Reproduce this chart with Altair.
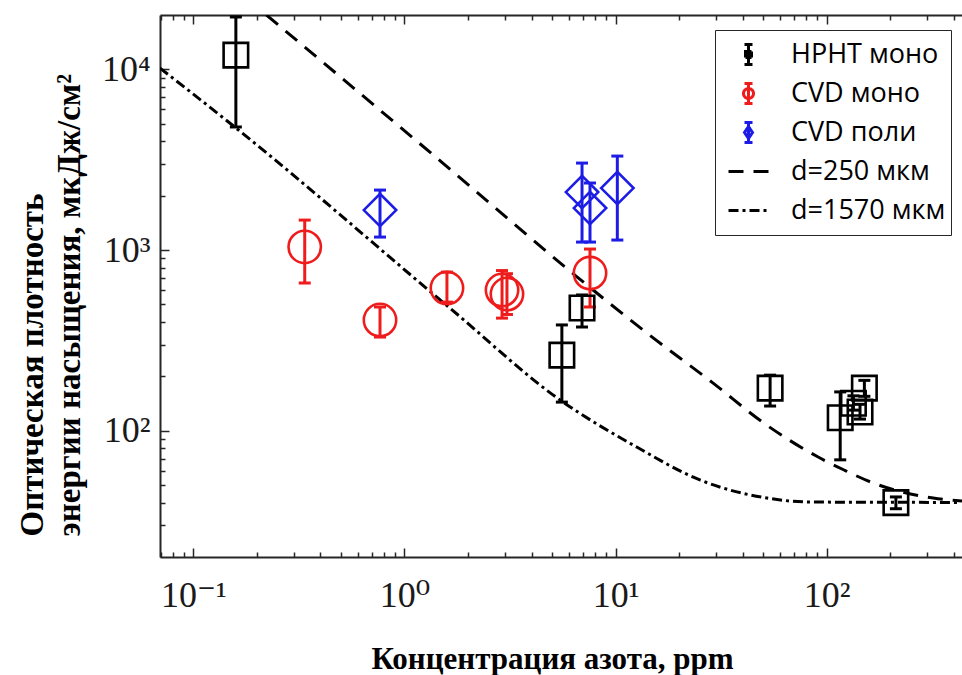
import altair as alt
import pandas as pd

# ---------------- data ----------------
series_names = ["HPHT моно", "CVD моно", "CVD поли", "d=250 мкм", "d=1570 мкм"]
series_colors = ["#000000", "#ee1c1c", "#1c1ce6", "#000000", "#000000"]

hpht_x = [0.159, 5.57, 6.94, 54.0, 116, 134, 144, 151, 213]
hpht_y = [12000, 262, 478, 172, 118, 142, 127, 172, 40]
hpht_lo = [4800, 144, 375, 137, 69, 130, 116, 155, 37]
hpht_hi = [19500, 385, 564, 203, 164, 156, 140, 190, 43]

cvdm_x = [0.337, 0.766, 1.59, 2.90, 3.06, 7.57]
cvdm_y = [1040, 410, 616, 601, 571, 746]
cvdm_lo = [657, 330, 515, 420, 440, 484]
cvdm_hi = [1465, 484, 755, 770, 740, 1013]

cvdp_x = [0.766, 6.94, 7.57, 10.2]
cvdp_y = [1665, 2094, 1708, 2203]
cvdp_lo = [1180, 1107, 1107, 1136]
cvdp_hi = [2148, 3030, 2350, 3313]

d250_x = [0.222, 1.52, 6.50, 13.5, 28.9, 51.1, 91.2, 121, 166, 320, 438]
d250_y = [20000, 3030, 718, 361, 184, 109, 71.5, 60.6, 51.4, 42.4, 40.8]

d1570_x = [0.0695, 0.157, 1.64, 5.46, 12.6, 25.1, 52.2, 83.6, 430]
d1570_y = [10170, 4800, 478, 148, 81.2, 53.4, 42.4, 40.3, 40.1]

x_major = [0.1, 1, 10, 100]
x_major_labels = ["10⁻¹", "10⁰", "10¹", "10²"]
x_minor = [0.07, 0.08, 0.09, 0.2, 0.3, 0.4, 0.5, 0.6, 0.7, 0.8, 0.9,
           2, 3, 4, 5, 6, 7, 8, 9, 20, 30, 40, 50, 60, 70, 80, 90, 200, 300, 400]
y_major = [100, 1000, 10000]
y_major_labels = ["10²", "10³", "10⁴"]
y_minor = [30, 40, 50, 60, 70, 80, 90, 200, 300, 400, 500, 600, 700, 800, 900,
           2000, 3000, 4000, 5000, 6000, 7000, 8000, 9000]

x_domain = [0.0695, 438]
y_domain = [20, 20000]

# ---------------- tables ----------------
def pts(name, xs, ys, lo, hi):
    return pd.DataFrame({"series": name, "x": xs, "y": ys, "lo": lo, "hi": hi})

points = pd.concat([
    pts(series_names[0], hpht_x, hpht_y, hpht_lo, hpht_hi),
    pts(series_names[1], cvdm_x, cvdm_y, cvdm_lo, cvdm_hi),
    pts(series_names[2], cvdp_x, cvdp_y, cvdp_lo, cvdp_hi),
], ignore_index=True)

curves = pd.concat([
    pd.DataFrame({"series": series_names[3], "x": d250_x, "y": d250_y}),
    pd.DataFrame({"series": series_names[4], "x": d1570_x, "y": d1570_y}),
], ignore_index=True)

W, H = 802, 542
AX = "#262626"
SERIF = "Times New Roman, Liberation Serif, DejaVu Serif, serif"
SANS = "Open Sans, Noto Sans, sans-serif"

xscale = alt.Scale(type="log", domain=x_domain, nice=False)
yscale = alt.Scale(type="log", domain=y_domain, nice=False)

def label_expr(vals, labels):
    parts = [f"datum.value == {v} ? '{l}'" for v, l in zip(vals, labels)]
    return " : ".join(parts) + " : ''"

def major_test(vals):
    return "indexof([" + ",".join(str(v) for v in vals) + "], datum.value) >= 0"

x_tick_vals = sorted(x_major + x_minor)
y_tick_vals = sorted(y_major + y_minor)

x_tsize = {"condition": {"test": major_test(x_major), "value": 9}, "value": 5}
y_tsize = {"condition": {"test": major_test(y_major), "value": 9}, "value": 5}

x_axis_labels = alt.Axis(
    orient="bottom", values=x_major, labelExpr=label_expr(x_major, x_major_labels),
    ticks=False, domain=True, domainColor=AX, domainWidth=2, grid=False,
    labelFont=SERIF, labelFontSize=36, labelColor="#1a1a1a", labelPadding=21,
    labelFlush=False, labelOverlap=False,
    title="Концентрация азота, ppm", titleFont=SERIF, titleFontWeight="bold",
    titleFontSize=31, titleColor="#000000", titleX=392, titleY=111,
    titleAlign="center", titleBaseline="alphabetic", titleAnchor="start",
)
y_axis_labels = alt.Axis(
    orient="left", values=y_major, labelExpr=label_expr(y_major, y_major_labels),
    ticks=False, domain=True, domainColor=AX, domainWidth=2, grid=False,
    labelFont=SERIF, labelFontSize=36, labelColor="#1a1a1a", labelPadding=10,
    labelFlush=False, labelOverlap=False,
    title=["Оптическая плотность", "энергии насыщения, мкДж/см²"],
    titleFont=SERIF, titleFontWeight="bold", titleFontSize=33, titleColor="#000000",
    titleAngle=270, titleAlign="left", titleBaseline="top", titleLineHeight=37,
    titleX=-144, titleY=521, titleAnchor="start",
)
x_axis_in_bottom = alt.Axis(
    orient="top", offset=-H, values=x_tick_vals, labels=False, domain=False,
    grid=False, ticks=True, tickColor=AX, tickWidth=1.5, tickSize=x_tsize, title=None,
)
x_axis_top = alt.Axis(
    orient="bottom", offset=-H, values=x_tick_vals, labels=False, domain=True,
    domainColor=AX, domainWidth=2, grid=False, ticks=True, tickColor=AX,
    tickWidth=1.5, tickSize=x_tsize, title=None,
)
y_axis_in_left = alt.Axis(
    orient="right", offset=-W, values=y_tick_vals, labels=False, domain=False,
    grid=False, ticks=True, tickColor=AX, tickWidth=1.5, tickSize=y_tsize, title=None,
)

legend_shapes = [
    "M-0.2,-0.5H0.2M0,-0.5V0.5M-0.2,0.5H0.2M-0.15,-0.15H0.15V0.15H-0.15Z",
    "M-0.2,-0.5H0.2M0,-0.5V0.5M-0.2,0.5H0.2M0.25,0A0.25,0.25,0,1,1,-0.25,0A0.25,0.25,0,1,1,0.25,0",
    "M-0.2,-0.5H0.2M0,-0.5V0.5M-0.2,0.5H0.2M0,-0.3L0.2,0L0,0.3L-0.2,0Z",
    "stroke",
    "stroke",
]

legend = alt.Legend(
    title=None, orient="none", legendX=555, legendY=15,
    strokeColor=AX, fillColor="#ffffff", padding=5,
    symbolSize=1600, symbolStrokeWidth=3, symbolOffset=7, symbolOpacity=1,
    clipHeight=39, rowPadding=0, labelOffset=21,
    labelFont=SANS, labelFontSize=27,
    labelColor="#000000", labelBaseline="middle", labelLimit=400,
)

color_scale = alt.Scale(domain=series_names, range=series_colors)
dash_scale = alt.Scale(domain=series_names,
                       range=[[1, 0], [1, 0], [1, 0], [15, 10], [10, 4, 3, 4]])
shape_scale = alt.Scale(domain=series_names, range=legend_shapes)

color_enc = alt.Color("series:N", scale=color_scale, legend=legend)
dash_enc = alt.StrokeDash("series:N", scale=dash_scale, legend=legend)

base_pts = alt.Chart(points)
base_cur = alt.Chart(curves)

line250 = base_cur.transform_filter(alt.datum.series == series_names[3]).mark_line(
    strokeWidth=3, interpolate="monotone", clip=True
).encode(
    x=alt.X("x:Q", scale=xscale, axis=x_axis_labels),
    y=alt.Y("y:Q", scale=yscale, axis=y_axis_labels),
    color=color_enc, strokeDash=dash_enc,
)

line1570 = base_cur.transform_filter(alt.datum.series == series_names[4]).mark_line(
    strokeWidth=3, interpolate="monotone", clip=True
).encode(
    x=alt.X("x:Q", scale=xscale, axis=x_axis_in_bottom),
    y=alt.Y("y:Q", scale=yscale, axis=y_axis_in_left),
    color=color_enc, strokeDash=dash_enc,
)

bars = base_pts.mark_rule(strokeWidth=3, clip=True).encode(
    x=alt.X("x:Q", scale=xscale, axis=x_axis_top),
    y=alt.Y("lo:Q", scale=yscale, axis=None),
    y2="hi:Q",
    color=color_enc,
)

cap_lo = base_pts.mark_point(shape="stroke", size=144, strokeWidth=3, opacity=1, clip=True).encode(
    x=alt.X("x:Q", scale=xscale, axis=None),
    y=alt.Y("lo:Q", scale=yscale, axis=None),
    color=color_enc,
)
cap_hi = base_pts.mark_point(shape="stroke", size=144, strokeWidth=3, opacity=1, clip=True).encode(
    x=alt.X("x:Q", scale=xscale, axis=None),
    y=alt.Y("hi:Q", scale=yscale, axis=None),
    color=color_enc,
)

def markers(name, shape, size):
    return base_pts.transform_filter(alt.datum.series == name).mark_point(
        shape=shape, size=size, strokeWidth=2.6, filled=False, opacity=1, clip=True
    ).encode(
        x=alt.X("x:Q", scale=xscale, axis=None),
        y=alt.Y("y:Q", scale=yscale, axis=None),
        color=color_enc,
    )

m_sq = markers(series_names[0], "square", 600)
m_ci = markers(series_names[1], "circle", 1050)
m_di = markers(series_names[2], "diamond", 1050)

# legend-only layer: invisible marks, supplies the per-entry legend glyphs
legend_layer = base_cur.mark_point(
    filled=False, opacity=0, strokeWidth=3
).encode(
    x=alt.X("x:Q", scale=xscale, axis=None),
    y=alt.Y("y:Q", scale=yscale, axis=None),
    color=color_enc,
    shape=alt.Shape("series:N", scale=shape_scale, legend=legend),
    strokeDash=dash_enc,
)

chart = alt.layer(
    line250, line1570, bars, cap_lo, cap_hi, m_sq, m_ci, m_di, legend_layer
).resolve_axis(
    x="independent", y="independent"
).properties(
    width=W, height=H,
    autosize=alt.AutoSizeParams(type="none"),
    padding={"left": 160, "top": 15, "right": 0, "bottom": 118},
    background="#ffffff",
).configure_view(stroke=None)

chart.save("out.html", embed_options={"renderer": "svg", "actions": False})
